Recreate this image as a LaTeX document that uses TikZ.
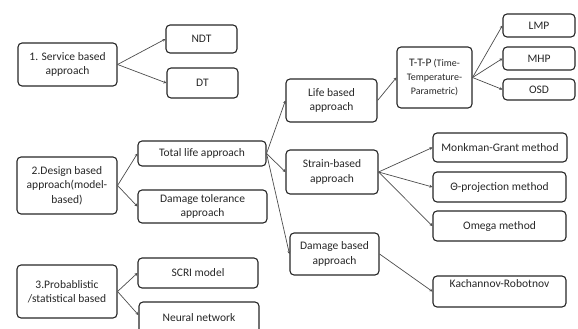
\documentclass[tikz,border=0pt]{standalone}
\usepackage{fontspec}
\setmainfont{Carlito}
\usetikzlibrary{arrows.meta}
\tikzset{
  box/.style={draw=black!85, rounded corners=4pt, line width=1.1pt, align=center,
    inner sep=1pt, text=black!85, font=\fontsize{11.5}{14.5}\selectfont},
  sz/.style 2 args={minimum width=#1pt, minimum height=#2pt},
  conn/.style={draw=black!70, line width=0.7pt, -{Stealth[length=3pt,width=3pt]}},
}
\begin{document}
\begin{tikzpicture}[x=1pt,y=-1pt]
\useasboundingbox (0,0) rectangle (578,329);
\clip (0,0) rectangle (578,329);
% column 1
\node[box,sz={99}{43}] (svc) at (67.5,64.5) {1. Service based\\approach};
\node[box,sz={100}{57}] (des) at (67,185.5) {2.Design based\\approach(model-\\based)};
\node[box,sz={100}{53}] (prob) at (67,291.5) {3.Probablistic\\/statistical based};
% column 2
\node[box,sz={71}{28}] (ndt) at (201.5,39) {NDT};
\node[box,sz={71}{30}] (dt) at (202.5,83) {DT};
\node[box,sz={128}{25}] (tot) at (202,153.5) {Total life approach};
\node[box,sz={129}{33}] (dta) at (202.5,206.5) {Damage tolerance\\approach};
\node[box,sz={120}{30}] (scri) at (198,273) {SCRI model};
\node[box,sz={120}{32}] (nn) at (199,318) {Neural network};
% column 3
\node[box,sz={91}{43}] (life) at (331.5,100.5) {Life based\\approach};
\node[box,sz={92}{44}] (strain) at (332,172) {Strain-based\\approach};
\node[box,sz={89}{42}] (dmg) at (334.5,254) {Damage based\\approach};
% column 4
\node[box,sz={75}{61},font=\fontsize{10}{14}\selectfont] (ttp) at (434.5,77.5) {{\fontsize{11.5}{14}\selectfont T-T-P} (Time-\\Temperature-\\Parametric)};
\node[box,sz={134}{29}] (mg) at (500,147.5) {Monkman-Grant method};
\node[box,sz={133}{30}] (theta) at (499.5,187) {Θ-projection method};
\node[box,sz={133}{30}] (omega) at (499.5,226) {Omega method};
\node[box,sz={133}{31},text depth=16pt] (kach) at (499.5,291.5) {Kachannov-Robotnov};
% column 5
\node[box,sz={72}{23}] (lmp) at (539,25.5) {LMP};
\node[box,sz={72}{23}] (mhp) at (539,58.5) {MHP};
\node[box,sz={72}{21}] (osd) at (539,89.5) {OSD};
% connectors
\draw[conn] (svc.east) -- (ndt.west);
\draw[conn] (svc.east) -- (dt.west);
\draw[conn] (des.east) -- (tot.west);
\draw[conn] (des.east) -- (dta.west);
\draw[conn] (prob.east) -- (scri.west);
\draw[conn] (prob.east) -- ([yshift=3pt]nn.west);
\draw[conn] (tot.east) -- (life.west);
\draw[conn] (tot.east) -- (strain.west);
\draw[conn] (tot.east) -- (dmg.west);
\draw[conn] (life.east) -- (ttp.west);
\draw[conn] (ttp.east) -- (lmp.west);
\draw[conn] (ttp.east) -- (mhp.west);
\draw[conn] (ttp.east) -- (osd.west);
\draw[conn] (strain.east) -- (mg.west);
\draw[conn] (strain.east) -- (theta.west);
\draw[conn] (strain.east) -- (omega.west);
\draw[conn] (dmg.east) -- (kach.west);
\end{tikzpicture}
\end{document}
